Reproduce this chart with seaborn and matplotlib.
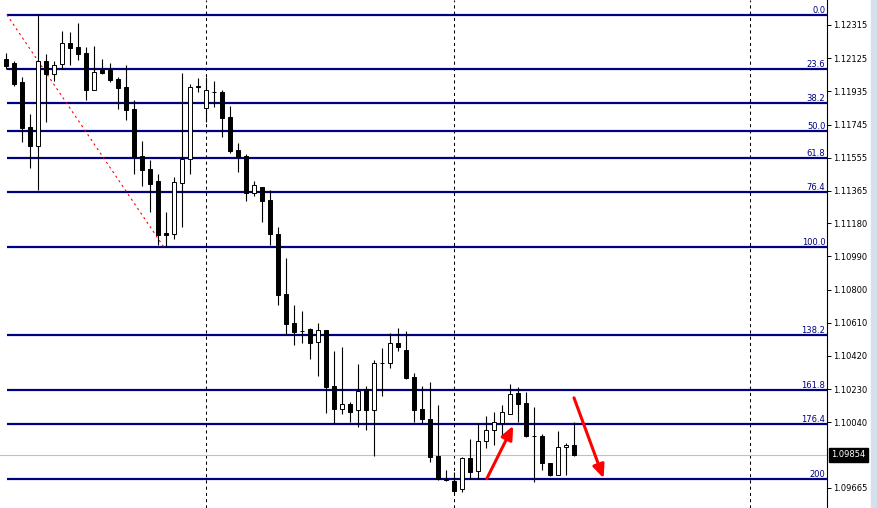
import pandas as pd
import matplotlib
matplotlib.use("Agg")
import matplotlib.pyplot as plt
import matplotlib.transforms as mtransforms
from matplotlib.patches import Rectangle
import seaborn as sns

# candles, oldest first
OPENS = [1.12118, 1.12097, 1.11988, 1.11731, 1.11624, 1.12109, 1.12033, 1.12090, 1.12212, 1.12189,
         1.12155, 1.11941, 1.12055, 1.12055, 1.12006, 1.11960, 1.11834, 1.11565, 1.11490, 1.11421,
         1.11124, 1.11120, 1.11412, 1.11547, 1.11966, 1.11841, 1.11931, 1.11931, 1.11788, 1.11599,
         1.11565, 1.11354, 1.11385, 1.11313, 1.11118, 1.10774, 1.10607, 1.10564, 1.10572, 1.10498,
         1.10566, 1.10247, 1.10117, 1.10144, 1.10110, 1.10230, 1.10112, 1.10377, 1.10377, 1.10492,
         1.10455, 1.10297, 1.10116, 1.10058, 1.09847, 1.09713, 1.09705, 1.09656, 1.09833, 1.09761,
         1.09932, 1.09994, 1.10037, 1.10089, 1.10206, 1.10148, 1.09961, 1.09961, 1.09805, 1.09738,
         1.09896, 1.09910]
HIGHS = [1.12156, 1.12109, 1.12015, 1.11805, 1.12380, 1.12149, 1.12109, 1.12279, 1.12275, 1.12326,
         1.12189, 1.12195, 1.12120, 1.12097, 1.12019, 1.12086, 1.11885, 1.11651, 1.11543, 1.11463,
         1.11244, 1.11444, 1.12040, 1.11975, 1.12011, 1.12019, 1.11994, 1.11941, 1.11851, 1.11639,
         1.11578, 1.11421, 1.11385, 1.11368, 1.11158, 1.10980, 1.10711, 1.10677, 1.10581, 1.10608,
         1.10566, 1.10448, 1.10469, 1.10154, 1.10372, 1.10247, 1.10396, 1.10465, 1.10549, 1.10578,
         1.10564, 1.10320, 1.10249, 1.10269, 1.10139, 1.09766, 1.09757, 1.09843, 1.09942, 1.10037,
         1.10076, 1.10099, 1.10139, 1.10257, 1.10240, 1.10215, 1.10125, 1.09971, 1.09805, 1.09991,
         1.09919, 1.10040]
LOWS = [1.12063, 1.11967, 1.11647, 1.11498, 1.11372, 1.11761, 1.11994, 1.12063, 1.12086, 1.12114,
        1.11887, 1.11941, 1.12033, 1.11987, 1.11834, 1.11773, 1.11463, 1.11395, 1.11246, 1.11055,
        1.11045, 1.11091, 1.11160, 1.11463, 1.11933, 1.11761, 1.11847, 1.11675, 1.11584, 1.11475,
        1.11307, 1.11337, 1.11188, 1.11057, 1.10713, 1.10540, 1.10482, 1.10492, 1.10402, 1.10305,
        1.10095, 1.10037, 1.10089, 1.10043, 1.10014, 1.09997, 1.09848, 1.10190, 1.10352, 1.10450,
        1.10290, 1.10040, 1.10034, 1.09814, 1.09711, 1.09703, 1.09633, 1.09642, 1.09713, 1.09713,
        1.09891, 1.09910, 1.09954, 1.10085, 1.10043, 1.09957, 1.09696, 1.09766, 1.09734, 1.09738,
        1.09738, 1.09847]
CLOSES = [1.12082, 1.11979, 1.11727, 1.11624, 1.12109, 1.12033, 1.12084, 1.12210, 1.12185, 1.12150,
          1.11944, 1.12046, 1.12042, 1.12002, 1.11956, 1.11830, 1.11561, 1.11486, 1.11406, 1.11112,
          1.11114, 1.11416, 1.11547, 1.11960, 1.11958, 1.11941, 1.11931, 1.11784, 1.11595, 1.11561,
          1.11354, 1.11397, 1.11309, 1.11120, 1.10771, 1.10604, 1.10558, 1.10564, 1.10495, 1.10566,
          1.10243, 1.10117, 1.10143, 1.10100, 1.10217, 1.10112, 1.10377, 1.10377, 1.10492, 1.10472,
          1.10295, 1.10110, 1.10058, 1.09843, 1.09713, 1.09711, 1.09648, 1.09833, 1.09757, 1.09932,
          1.09995, 1.10040, 1.10100, 1.10200, 1.10143, 1.09963, 1.09961, 1.09805, 1.09738, 1.09896,
          1.09908, 1.09854]

# fibonacci retracement drawn from the swing high to the swing low
FIB_HIGH = 1.12374
FIB_LOW = 1.11045
FIB_START = 0
FIB_END = 19.7
FIB_LEVELS = [0.0, 23.6, 38.2, 50.0, 61.8, 76.4, 100.0, 138.2, 161.8, 176.4, 200.0]
FIB_LABELS = ["0.0", "23.6", "38.2", "50.0", "61.8", "76.4", "100.0",
              "138.2", "161.8", "176.4", "200"]

PRICE_TICKS = [1.12315, 1.12125, 1.11935, 1.11745, 1.11555, 1.11365, 1.11180,
               1.10990, 1.10800, 1.10610, 1.10420, 1.10230, 1.10040, 1.09665]
BID = 1.09854
SEPARATORS = [25, 56, 93]
ARROWS_FROM = [(60.1, 1.09717), (71.0, 1.10180)]
ARROWS_TO = [(63.4, 1.10020), (74.7, 1.09719)]

NAVY = "#000080"

df = pd.DataFrame({"open": OPENS, "high": HIGHS, "low": LOWS, "close": CLOSES})
df["bar"] = range(len(df))
df["bull"] = df["close"] > df["open"]

sns.set_style("white")
plt.rcParams["font.family"] = ["DejaVu Sans"]

fig = plt.figure(figsize=(8.78, 5.08), dpi=100)
ax = fig.add_axes([0, 0, 827 / 878, 1])

ax.set_xlim(-0.75, 102.625)
ax.set_ylim(1.09549, 1.12458)

# period separators
for s in SEPARATORS:
    ax.axvline(s, color="black", lw=0.75, ls=(0, (3, 3)), zorder=1)

# bid line
ax.axhline(BID, color="#c0c0c0", lw=0.8, zorder=1)

# fib levels
rng = FIB_HIGH - FIB_LOW
trans = mtransforms.blended_transform_factory(ax.transAxes, ax.transData)
for lvl, lab in zip(FIB_LEVELS, FIB_LABELS):
    price = FIB_HIGH - lvl / 100 * rng
    ax.hlines(price, FIB_START + 0.1, 102.625, color=NAVY, lw=1.6, zorder=2)
    ax.text(0.998, price, lab, transform=trans, ha="right", va="bottom",
            fontsize=6, color=NAVY, zorder=3)
ax.plot([FIB_START + 0.1, FIB_END], [FIB_HIGH, FIB_LOW], color="red",
        lw=0.8, ls=(0, (2, 3)), zorder=2)

# candles
ax.vlines(df["bar"], df["low"], df["high"], color="black", lw=0.8, zorder=4)
body_bottom = df[["open", "close"]].min(axis=1)
body_height = (df["close"] - df["open"]).abs()
colors = ["white" if b else "black" for b in df["bull"]]
ax.bar(df["bar"], body_height, bottom=body_bottom, width=0.55,
       color=colors, edgecolor="black", linewidth=0.7, zorder=5)

# arrows
for a, b in zip(ARROWS_FROM, ARROWS_TO):
    ax.annotate("", xy=b, xytext=a,
                arrowprops=dict(arrowstyle="-|>,head_length=0.8,head_width=0.35",
                                color="red", lw=2.2, shrinkA=0, shrinkB=0),
                zorder=6)

# price axis on the right
sns.despine(ax=ax, left=True, bottom=True, top=True, right=False)
ax.spines["right"].set_color("black")
ax.spines["right"].set_linewidth(0.8)
ax.set_xticks([])
ax.yaxis.tick_right()
ax.set_yticks(PRICE_TICKS)
ax.set_yticklabels([f"{t:.5f}" for t in PRICE_TICKS])
ax.tick_params(axis="y", direction="out", length=3, width=0.7, pad=1.5,
               labelsize=6, colors="black")
ax.grid(False)

ax.text(1.0055, BID, f"{BID:.5f}", transform=trans, ha="left", va="center",
        fontsize=6, color="white",
        bbox=dict(boxstyle="square,pad=0.3", fc="black", ec="black"))

fig.patches.append(Rectangle((871 / 878, 0), 7 / 878, 1, transform=fig.transFigure,
                             color="#d4e0ec", zorder=0))

fig.savefig("out.png", dpi=100)
